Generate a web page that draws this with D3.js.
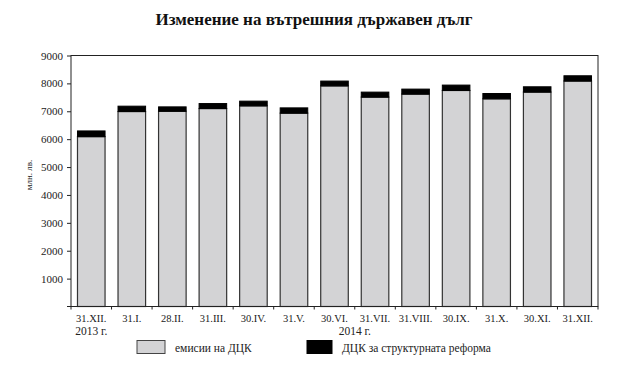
<!DOCTYPE html>
<html><head><meta charset="utf-8">
<script src="https://cdn.jsdelivr.net/npm/d3@7"></script>
<style>body{margin:0;background:#fff}svg{display:block}</style>
</head><body>
<svg id="c" width="629" height="383"></svg>
<script>
const categories = ["31.XII.","31.I.","28.II.","31.III.","30.IV.","31.V.","30.VI.","31.VII.","31.VIII.","30.IX.","31.X.","30.XI.","31.XII."];
const emissions = [6090,6990,7000,7097,7194,6932,7910,7507,7615,7745,7446,7687,8083];
const reform = [205,193,158,180,169,190,173,180,180,194,191,191,190];
const yTicks = [1000,2000,3000,4000,5000,6000,7000,8000,9000];
const seriesNames = ["емисии на ДЦК","ДЦК за структурната реформа"];
const yearLabels = [{text:"2013 г.", after:0, mode:"center"},{text:"2014 г.", after:6, mode:"edge"}];

const svg = d3.select("#c");
const L=71, R=598, T=55.5, B=306.5;
const font = "'Liberation Serif','Times New Roman',serif";

const x = d3.scaleBand().domain(categories.map((d,i)=>i)).range([L,R]).paddingInner(0.32).paddingOuter(0.16);
const xb = d3.scaleBand().domain(categories.map((d,i)=>i)).range([L,R]);
const y = d3.scaleLinear().domain([0,9000]).range([B,T]);

svg.append("text").attr("x",314).attr("y",25).attr("text-anchor","middle")
  .attr("font-family",font).attr("font-weight","bold").attr("font-size",17).attr("fill","#111")
  .text("Изменение на вътрешния държавен дълг");

// plot border
svg.append("rect").attr("x",L).attr("y",T).attr("width",R-L).attr("height",B-T)
  .attr("fill","none").attr("stroke","#222").attr("stroke-width",1);

// bars
const g = svg.append("g");
categories.forEach((c,i)=>{
  g.append("rect").attr("x",x(i)).attr("width",x.bandwidth())
    .attr("y",y(emissions[i])).attr("height",y(0)-y(emissions[i]))
    .attr("fill","#d3d3d5").attr("stroke","#333").attr("stroke-width",1.2);
  g.append("rect").attr("x",x(i)).attr("width",x.bandwidth())
    .attr("y",y(emissions[i]+reform[i])).attr("height",y(emissions[i])-y(emissions[i]+reform[i]))
    .attr("fill","#000").attr("stroke","#000").attr("stroke-width",1);
});

// y axis
const ya = svg.append("g").attr("transform",`translate(${L},0)`)
  .call(d3.axisLeft(y).tickValues(yTicks).tickSize(4).tickFormat(d3.format("d")));
ya.select(".domain").remove();
ya.selectAll("line").attr("stroke","#222");
ya.selectAll("text").attr("font-family",font).attr("font-size",11).attr("fill","#222").attr("dx","-1");

// x axis ticks at band boundaries
const xa = svg.append("g");
xa.append("line").attr("x1",L-4).attr("x2",R).attr("y1",B).attr("y2",B).attr("stroke","#222");
for(let i=0;i<=categories.length;i++){
  const px = i<categories.length ? xb(i) : R;
  xa.append("line").attr("x1",px).attr("x2",px).attr("y1",B).attr("y2",B+3).attr("stroke","#222");
}
categories.forEach((c,i)=>{
  xa.append("text").attr("x",xb(i)+xb.bandwidth()/2).attr("y",322).attr("text-anchor","middle")
    .attr("font-family",font).attr("font-size",10.5).attr("fill","#222").text(c);
});
yearLabels.forEach(d=>{
  const px = d.mode==="center" ? xb(d.after)+xb.bandwidth()/2 : xb(d.after)+xb.bandwidth();
  xa.append("text").attr("x",px).attr("y",335).attr("text-anchor","middle")
    .attr("font-family",font).attr("font-size",11.5).attr("fill","#222").text(d.text);
});

// y label
svg.append("text").attr("transform","translate(32,175) rotate(-90)").attr("text-anchor","middle")
  .attr("font-family",font).attr("font-size",9).attr("fill","#222").text("млн. лв.");

// legend
const legX=[137,307], legFill=["#d3d3d5","#000"];
seriesNames.forEach((n,i)=>{
  svg.append("rect").attr("x",legX[i]).attr("y",340.5).attr("width",i?25:28).attr("height",13)
    .attr("fill",legFill[i]).attr("stroke",i?"#000":"#444");
  svg.append("text").attr("x",legX[i]+(i?35:38)).attr("y",351.5)
    .attr("font-family",font).attr("font-size",11.5).attr("fill","#222").text(n);
});
</script>
</body></html>
